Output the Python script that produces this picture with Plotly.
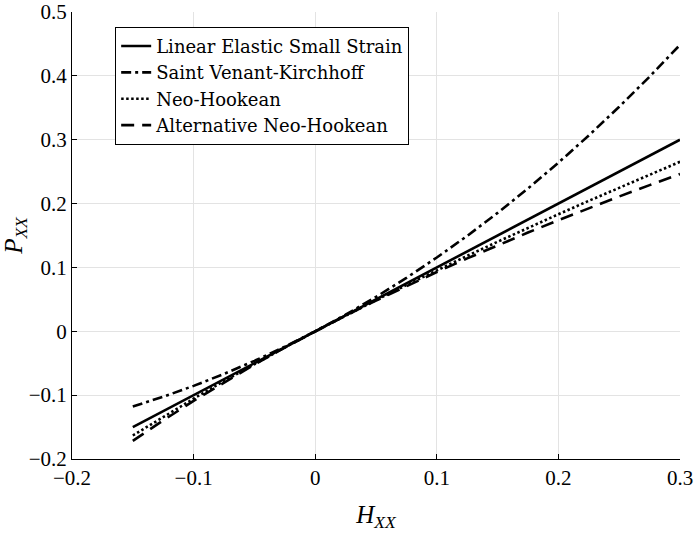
import plotly.graph_objects as go

H = [-0.15, -0.125, -0.1, -0.075, -0.05, -0.025, 0.0, 0.025, 0.05, 0.075,
     0.1, 0.125, 0.15, 0.175, 0.2, 0.225, 0.25, 0.275, 0.3]

linear = [-0.15, -0.125, -0.1, -0.075, -0.05, -0.025, 0.0, 0.025, 0.05, 0.075,
          0.1, 0.125, 0.15, 0.175, 0.2, 0.225, 0.25, 0.275, 0.3]
svk = [-0.1179, -0.1025, -0.0855, -0.0668, -0.0463, -0.0241, 0.0, 0.0260, 0.0538, 0.0837,
       0.1155, 0.1494, 0.1854, 0.2236, 0.2640, 0.3066, 0.3516, 0.3988, 0.4485]
neo = [-0.1632, -0.1339, -0.1056, -0.0780, -0.0513, -0.0253, 0.0, 0.0247, 0.0488, 0.0724,
       0.0955, 0.1181, 0.1402, 0.1620, 0.1833, 0.2043, 0.2250, 0.2453, 0.2654]
alt_neo = [-0.1716, -0.1395, -0.1090, -0.0799, -0.0521, -0.0255, 0.0, 0.0245, 0.0481, 0.0709,
           0.0928, 0.1141, 0.1346, 0.1546, 0.1739, 0.1927, 0.2111, 0.2289, 0.2463]

names = ["Linear Elastic Small Strain", "Saint Venant-Kirchhoff", "Neo-Hookean", "Alternative Neo-Hookean"]
series = [linear, svk, neo, alt_neo]
dashes = ["solid", "10px,4px,3px,4px", "2.5px,2.5px", "13px,8px"]

FONT = "Liberation Serif"
LEG_FONT = "DejaVu Serif"

fig = go.Figure()
for name, ys, d in zip(names, series, dashes):
    fig.add_trace(go.Scatter(x=H, y=ys, mode="lines", name=name,
                             line=dict(color="black", width=2.6, dash=d)))

axis_common = dict(
    showgrid=True, gridcolor="#e3e3e3", gridwidth=1,
    showline=True, linecolor="black", linewidth=1,
    ticks="inside", ticklen=5, tickcolor="black",
    zeroline=False, mirror=False, automargin=False,
    tickfont=dict(family=FONT, size=21, color="black"),
)

fig.update_layout(
    width=695, height=533,
    margin=dict(l=72, r=15, t=12, b=74),
    plot_bgcolor="white", paper_bgcolor="white",
    font=dict(family=FONT, color="black"),
    xaxis=dict(range=[-0.2, 0.3], dtick=0.1, tick0=0,
               title=dict(text="<i>H</i><sub><i>XX</i></sub>", font=dict(family=FONT, size=25), standoff=16),
               **axis_common),
    yaxis=dict(range=[-0.2, 0.5], dtick=0.1, tick0=0,
               title=dict(text="<i>P</i><sub><i>XX</i></sub>", font=dict(family=FONT, size=25), standoff=4),
               **axis_common),
    legend=dict(x=0.071, y=0.967, xanchor="left", yanchor="top",
                bgcolor="white", bordercolor="black", borderwidth=1,
                font=dict(family=LEG_FONT, size=18, color="black"),
                tracegroupgap=0, itemwidth=30),
    showlegend=True,
)

fig.write_html("out.html")
